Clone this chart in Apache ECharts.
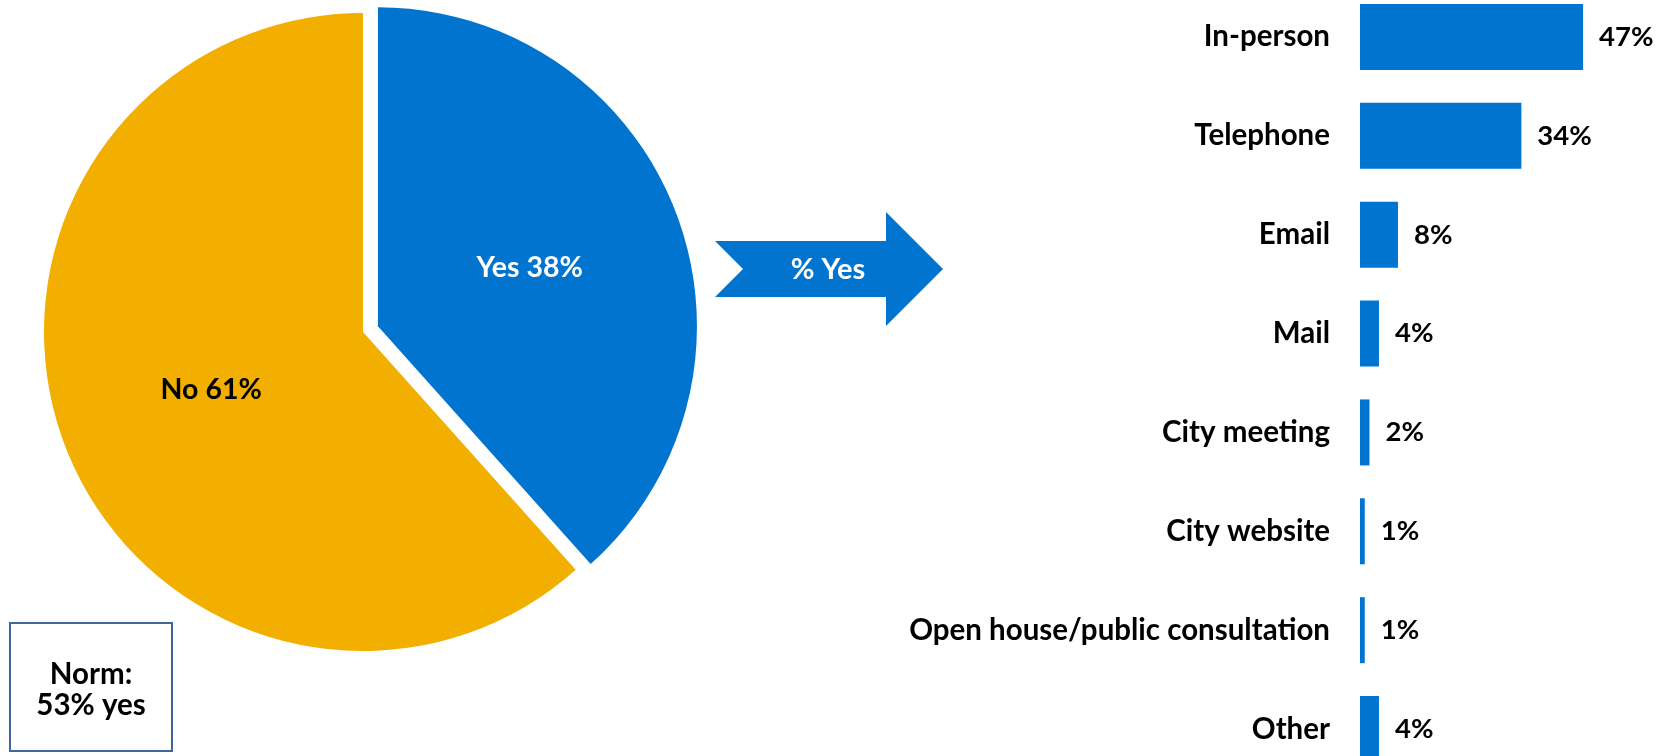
<!DOCTYPE html>
<html>
<head>
<meta charset="utf-8">
<title>Contact with the city</title>
<script src="https://cdn.jsdelivr.net/npm/echarts@6/dist/echarts.min.js"></script>
<style>
  html, body { margin: 0; padding: 0; background: #ffffff; }
  #chart { width: 1672px; height: 756px; }
</style>
</head>
<body>
<div id="chart"></div>
<script>
// Contacted the city in the past year (pie)
const pieNames = ['Yes', 'No'];
const pieValues = [38, 61];

// Method of contact, among those who said yes (bars)
const methods = ['In-person', 'Telephone', 'Email', 'Mail', 'City meeting', 'City website', 'Open house/public consultation', 'Other'];
const methodValues = [47, 34, 8, 4, 2, 1, 1, 4];

const normLines = ['Norm:', '53% yes'];
const arrowText = '% Yes';

const BLUE = '#0174CF';
const GOLD = '#F2AF00';
const FONT = 'Lato';

const chart = echarts.init(document.getElementById('chart'), null, { renderer: 'canvas' });

chart.setOption({
  animation: false,
  backgroundColor: '#ffffff',
  textStyle: { fontFamily: FONT },
  grid: {
    left: 1360,
    right: 74.7,
    top: -12.5,
    bottom: -22.5,
    containLabel: false,
    outerBoundsMode: 'none'
  },
  xAxis: {
    type: 'value',
    min: 0,
    max: 50,
    show: false
  },
  yAxis: {
    type: 'category',
    data: methods,
    inverse: true,
    axisLine: { show: false },
    axisTick: { show: false },
    splitLine: { show: false },
    axisLabel: {
      margin: 30,
      color: '#000000',
      fontFamily: FONT,
      fontWeight: 'bold',
      fontSize: 29.5
    }
  },
  series: [
    {
      type: 'pie',
      center: [363, 332],
      radius: [0, 319],
      startAngle: 90,
      clockwise: true,
      selectedMode: 'single',
      selectedOffset: 16,
      avoidLabelOverlap: false,
      label: {
        position: 'inside',
        fontFamily: FONT,
        fontWeight: 'bold',
        fontSize: 28.5,
        formatter: p => p.name + ' ' + p.value + '%'
      },
      labelLine: { show: false },
      emphasis: { disabled: true },
      data: pieNames.map((n, i) => ({
        name: n,
        value: pieValues[i],
        selected: i === 0,
        itemStyle: { color: i === 0 ? BLUE : GOLD },
        label: { color: i === 0 ? '#ffffff' : '#000000' }
      }))
    },
    {
      type: 'bar',
      data: methodValues,
      barWidth: 66,
      itemStyle: { color: BLUE },
      label: {
        show: true,
        position: 'right',
        distance: 16,
        color: '#000000',
        fontFamily: FONT,
        fontWeight: 'bold',
        fontSize: 27.5,
        formatter: p => p.value + '%'
      },
      emphasis: { disabled: true }
    }
  ],
  graphic: [
    {
      type: 'polygon',
      shape: {
        points: [[715, 241], [743, 269], [715, 297], [886, 297], [886, 326], [943, 269], [886, 212], [886, 241]]
      },
      style: { fill: BLUE }
    },
    {
      type: 'text',
      x: 828,
      y: 270,
      style: {
        text: arrowText,
        fill: '#ffffff',
        font: 'bold 29px ' + FONT,
        align: 'center',
        verticalAlign: 'middle'
      }
    },
    {
      type: 'rect',
      shape: { x: 10, y: 623, width: 162, height: 128 },
      style: { fill: '#ffffff', stroke: '#41669B', lineWidth: 2 }
    },
    {
      type: 'text',
      x: 91,
      y: 690,
      style: {
        text: normLines.join('\n'),
        fill: '#000000',
        font: 'bold 29.5px ' + FONT,
        lineHeight: 31,
        align: 'center',
        verticalAlign: 'middle'
      }
    }
  ]
});
</script>
</body>
</html>
